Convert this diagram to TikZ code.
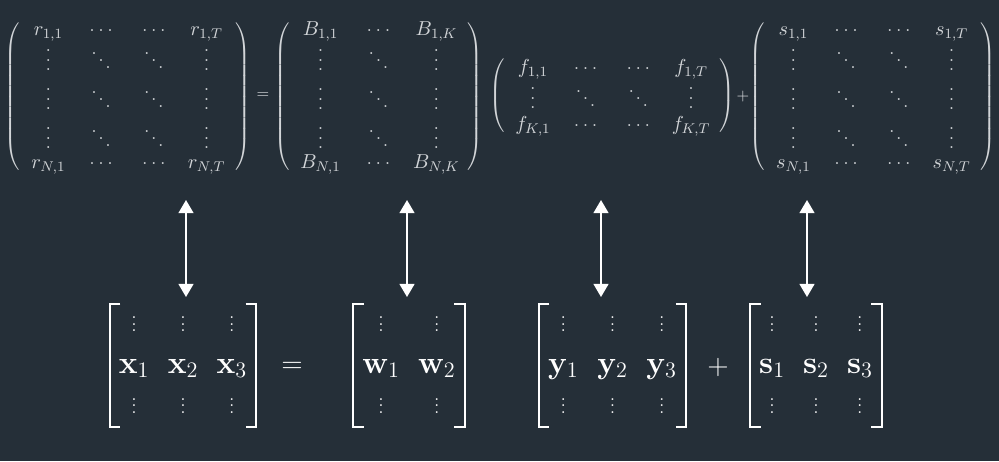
\RequirePackage{fix-cm}
\documentclass[tikz,border=0pt]{standalone}
\usepackage{amsmath}
\usepackage{xcolor}
\usetikzlibrary{matrix,arrows.meta,positioning}
\definecolor{bgc}{RGB}{37,47,56}
\definecolor{topfg}{RGB}{210,213,216}
% dots with the spacing of the picture
\newcommand{\hdts}{\vcenter{\hbox{.\kern2pt.\kern2pt.}}}
\newcommand{\vdts}{\vcenter{\baselineskip5.4pt\lineskiplimit0pt\hbox{.}\hbox{.}\hbox{.}}}
\newcommand{\ddts}{\vcenter{\hbox{.\kern.9pt\lower4pt\hbox{.}\kern.9pt\lower8pt\hbox{.}}}}
\newcommand{\bdt}{\hbox{\fontsize{10}{12}\selectfont.}}
\newcommand{\vdtsb}{\vcenter{\baselineskip3.8pt\lineskiplimit0pt\bdt\bdt\bdt}}

\begin{document}
\begin{tikzpicture}[x=0.02cm, y=-0.02cm,
    topmat/.style={matrix of math nodes, inner sep=0pt, outer sep=0pt, row sep=0pt, column sep=0pt,
        left delimiter=(, right delimiter=),
        nodes={topfg, font=\fontsize{11.5}{13}\selectfont, anchor=center, inner sep=0pt,
            text height=6.5pt, text depth=1.5pt, minimum width=#1}},
    botmat/.style={matrix of math nodes, inner sep=0pt, outer sep=0pt, row sep=7.2pt, column sep=0pt,
        nodes={white, font=\fontsize{18}{22}\selectfont, anchor=center, inner sep=0pt,
            text height=12pt, text depth=4pt, minimum width=#1}},
    every delimiter/.style={topfg},
    brak/.style={white, line width=1.1pt},
    dbl/.style={{Triangle[width=8.5pt,length=7.5pt]}-{Triangle[width=8.5pt,length=7.5pt]}, white, line width=1.1pt}]
    \fill[bgc] (0,0) rectangle (999,461);
    \useasboundingbox (0,0) rectangle (999,461);

    % top line
    \matrix[topmat=30pt] (rmat) at (127.5,97.5) {
        r_{1,1} & \hdts & \hdts & r_{1,T} \\[9pt]
        \vdts & \ddts & \ddts & \vdts \\[14.1pt]
        \vdts & \ddts & \ddts & \vdts \\[14.1pt]
        \vdts & \ddts & \ddts & \vdts \\[6.2pt]
        r_{N,1} & \hdts & \hdts & r_{N,T} \\
    };
    \node[topfg, font=\fontsize{9}{11}\selectfont] (eqt) at (263,96) {$=$};
    \matrix[topmat=33pt] (bmat) at (378.5,97.5) {
        B_{1,1} & \hdts & B_{1,K} \\[9pt]
        \vdts & \ddts & \vdts \\[14.1pt]
        \vdts & \ddts & \vdts \\[14.1pt]
        \vdts & \ddts & \vdts \\[6.2pt]
        B_{N,1} & \hdts & B_{N,K} \\
    };
    \matrix[topmat=30pt] (fmat) at (612,97.5) {
        f_{1,1} & \hdts & \hdts & f_{1,T} \\[9pt]
        \vdts & \ddts & \ddts & \vdts \\[7.3pt]
        f_{K,1} & \hdts & \hdts & f_{K,T} \\
    };
    \node[topfg, font=\fontsize{9}{11}\selectfont] (plt) at (743,97) {$+$};
    \matrix[topmat=30pt] (smat) at (872.5,97.5) {
        s_{1,1} & \hdts & \hdts & s_{1,T} \\[9pt]
        \vdts & \ddts & \ddts & \vdts \\[14.1pt]
        \vdts & \ddts & \ddts & \vdts \\[14.1pt]
        \vdts & \ddts & \ddts & \vdts \\[6.2pt]
        s_{N,1} & \hdts & \hdts & s_{N,T} \\
    };

    % bottom line
    \matrix[botmat=27.8pt] (xvec) at (183,366) {
        \vdtsb & \vdtsb & \vdtsb \\
        \mathbf{x}_1 & \mathbf{x}_2 & \mathbf{x}_3 \\
        \vdtsb & \vdtsb & \vdtsb \\
    };
    \node[white, font=\fontsize{16}{19}\selectfont] (eqb) at (292,367) {$=$};
    \matrix[botmat=31.7pt] (wvec) at (409,366) {
        \vdtsb & \vdtsb \\
        \mathbf{w}_1 & \mathbf{w}_2 \\
        \vdtsb & \vdtsb \\
    };
    \matrix[botmat=28pt] (yvec) at (612.5,366) {
        \vdtsb & \vdtsb & \vdtsb \\
        \mathbf{y}_1 & \mathbf{y}_2 & \mathbf{y}_3 \\
        \vdtsb & \vdtsb & \vdtsb \\
    };
    \node[white, font=\fontsize{16}{19}\selectfont] (plb) at (718,367) {$+$};
    \matrix[botmat=25pt] (svec) at (816,366) {
        \vdtsb & \vdtsb & \vdtsb \\
        \mathbf{s}_1 & \mathbf{s}_2 & \mathbf{s}_3 \\
        \vdtsb & \vdtsb & \vdtsb \\
    };

    % brackets
    \draw[brak] ([xshift=6pt,yshift=4pt]xvec.north west) -| ([yshift=-3.5pt]xvec.south west) -- ++(6pt,0);
    \draw[brak] ([xshift=-6pt,yshift=4pt]xvec.north east) -| ([yshift=-3.5pt]xvec.south east) -- ++(-6pt,0);
    \draw[brak] ([xshift=6pt,yshift=4pt]wvec.north west) -| ([yshift=-3.5pt]wvec.south west) -- ++(6pt,0);
    \draw[brak] ([xshift=-6pt,yshift=4pt]wvec.north east) -| ([yshift=-3.5pt]wvec.south east) -- ++(-6pt,0);
    \draw[brak] ([xshift=6pt,yshift=4pt]yvec.north west) -| ([yshift=-3.5pt]yvec.south west) -- ++(6pt,0);
    \draw[brak] ([xshift=-6pt,yshift=4pt]yvec.north east) -| ([yshift=-3.5pt]yvec.south east) -- ++(-6pt,0);
    \draw[brak] ([xshift=6pt,yshift=4pt]svec.north west) -| ([yshift=-3.5pt]svec.south west) -- ++(6pt,0);
    \draw[brak] ([xshift=-6pt,yshift=4pt]svec.north east) -| ([yshift=-3.5pt]svec.south east) -- ++(-6pt,0);

    % arrows between the lines
    \coordinate (xa) at (186,200);
    \coordinate (xb) at (186,297);
    \coordinate (wa) at (407,200);
    \coordinate (wb) at (407,297);
    \coordinate (ya) at (601,200);
    \coordinate (yb) at (601,297);
    \coordinate (sa) at (807,200);
    \coordinate (sb) at (807,297);
    \draw[dbl] (xa) -- (xb);
    \draw[dbl] (wa) -- (wb);
    \draw[dbl] (ya) -- (yb);
    \draw[dbl] (sa) -- (sb);
\end{tikzpicture}
\end{document}
